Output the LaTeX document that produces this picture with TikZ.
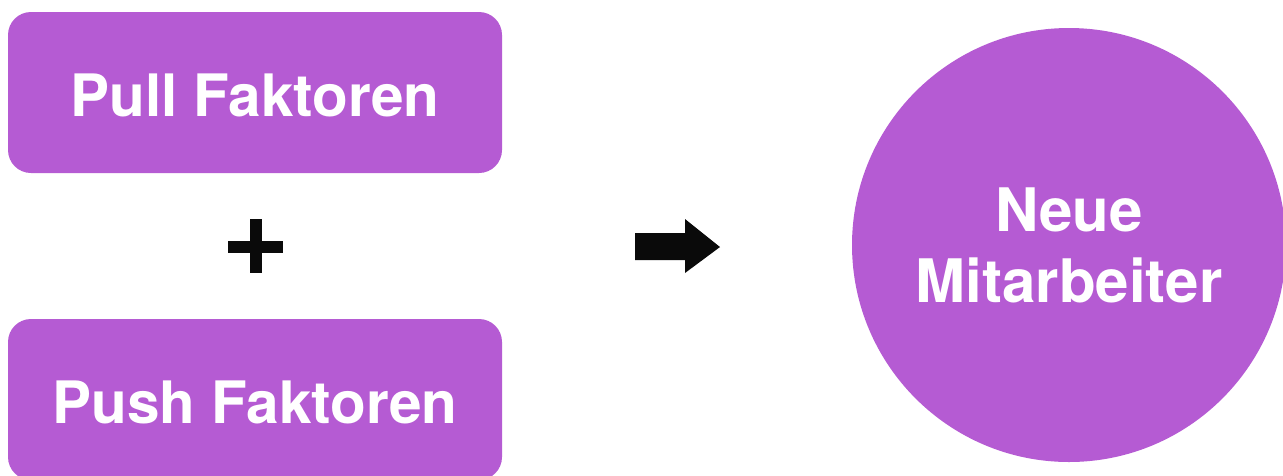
\documentclass[tikz,border=0pt]{standalone}
\usepackage{fontspec}
\setmainfont{TeX Gyre Heros}
\definecolor{boxpurple}{RGB}{181,91,211}
\definecolor{ink}{RGB}{10,10,10}
\begin{document}
\begin{tikzpicture}[x=1pt,y=-1pt,
  factorbox/.style={fill=boxpurple, draw=none, rounded corners=23pt,
    minimum width=494pt, minimum height=161pt, inner sep=0pt,
    text=white, font=\fontsize{58.5}{70}\selectfont\bfseries,
    text height=48pt, text depth=0pt},
  resultcircle/.style={circle, fill=boxpurple, draw=none, minimum size=434pt,
    inner sep=0pt, text=white, align=center,
    font=\fontsize{60}{71}\selectfont\bfseries}]
\useasboundingbox (0,0) rectangle (1283,475);
\node[factorbox] (pull) at (255,92.5) {Pull Faktoren};
\node[factorbox] (push) at (255,399.5) {Push Faktoren};
\node[resultcircle] (neu) at (1069,245) {Neue\\Mitarbeiter};
% plus sign
\fill[ink] (250,219) rectangle (262,273);
\fill[ink] (228,241) rectangle (283,253);
% block arrow
\fill[ink] (635,233) -- (685,233) -- (685,219) -- (720,247) -- (685,273) -- (685,260) -- (635,260) -- cycle;
\end{tikzpicture}
\end{document}
